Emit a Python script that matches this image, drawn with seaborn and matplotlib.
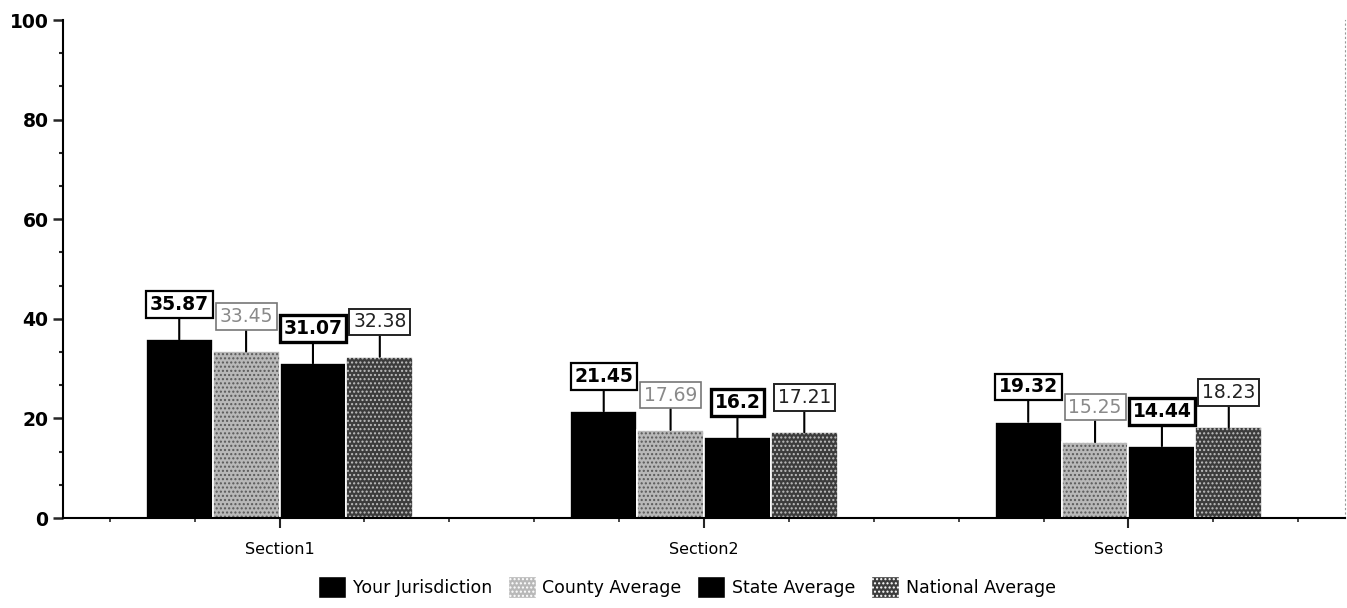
import matplotlib
matplotlib.use("Agg")
import matplotlib.pyplot as plt
from matplotlib.patches import Patch
from matplotlib.ticker import MultipleLocator, FixedLocator
import seaborn as sns
import pandas as pd

sections = ["Section1", "Section2", "Section3"]
series_names = ["Your Jurisdiction", "County Average", "State Average", "National Average"]
your_jurisdiction = [35.87, 21.45, 19.32]
county_average = [33.45, 17.69, 15.25]
state_average = [31.07, 16.2, 14.44]
national_average = [32.38, 17.21, 18.23]

values = [your_jurisdiction, county_average, state_average, national_average]
rows = []
for name, vals in zip(series_names, values):
    for sec, v in zip(sections, vals):
        rows.append({"Section": sec, "Series": name, "Value": v})
df = pd.DataFrame(rows)

sns.set_style("white")
plt.rcParams["font.family"] = ["DejaVu Sans"]
plt.rcParams["hatch.linewidth"] = 1.0

face = {"Your Jurisdiction": "#000000", "County Average": "#b8b8b8",
        "State Average": "#000000", "National Average": "#3c3c3c"}
hatch = {"Your Jurisdiction": "", "County Average": "....",
         "State Average": "", "National Average": "...."}
hatch_col = {"County Average": (0.35, 0.35, 0.35, 1),
             "National Average": (0.75, 0.75, 0.75, 1)}
label_style = {
    "Your Jurisdiction": dict(tc="#000000", ec="#000000", lw=1.6, fw="bold"),
    "County Average": dict(tc="#8a8a8a", ec="#777777", lw=1.2, fw="normal"),
    "State Average": dict(tc="#000000", ec="#000000", lw=2.4, fw="bold"),
    "National Average": dict(tc="#222222", ec="#222222", lw=1.4, fw="normal"),
}

fig = plt.figure(figsize=(13.47, 6.08), dpi=100)
ax = fig.add_axes([0.0468, 0.148, 0.9517, 0.819])

sns.barplot(data=df, x="Section", y="Value", hue="Series", order=sections,
            hue_order=series_names, palette=face, width=0.63, ax=ax,
            legend=False, edgecolor="white", linewidth=1.2, saturation=1)

for name, cont in zip(series_names, ax.containers):
    st = label_style[name]
    for bar in cont:
        bar.set_hatch(hatch[name])
        if name in hatch_col:
            bar._hatch_color = hatch_col[name]
        h = bar.get_height()
        xc = bar.get_x() + bar.get_width() / 2
        ax.annotate(f"{h:g}", xy=(xc, h), xytext=(xc, h + 7.0),
                    ha="center", va="center", fontsize=13.5, color=st["tc"],
                    fontweight=st["fw"],
                    bbox=dict(boxstyle="square,pad=0.2", fc="white",
                              ec=st["ec"], lw=st["lw"]),
                    arrowprops=dict(arrowstyle="-", color="black", lw=1.5,
                                    shrinkA=0, shrinkB=0))

ax.set_ylim(0, 100)
ax.set_xlim(-0.51, 2.51)
ax.yaxis.set_major_locator(MultipleLocator(20))
ax.yaxis.set_minor_locator(MultipleLocator(20 / 3))
minor_x = [c + d for c in range(3) for d in (-0.4, -0.2, 0.2, 0.4)]
ax.xaxis.set_minor_locator(FixedLocator(minor_x))

ax.spines["top"].set_visible(False)
ax.spines["right"].set_linestyle((0, (1, 3)))
ax.spines["right"].set_color("#999999")
ax.spines["right"].set_linewidth(0.8)
for side in ("left", "bottom"):
    ax.spines[side].set_color("black")
    ax.spines[side].set_linewidth(1.5)

ax.tick_params(axis="y", which="major", length=7, width=1.8, direction="out",
               labelsize=13.5, left=True, labelcolor="black")
ax.tick_params(axis="y", which="minor", length=3, width=1.5, direction="out", left=True)
ax.tick_params(axis="x", which="major", length=7, width=1.5, direction="out",
               labelsize=11.5, bottom=True, pad=10, labelcolor="black")
ax.tick_params(axis="x", which="minor", length=3, width=1.2, direction="out", bottom=True)
for lbl in ax.get_yticklabels():
    lbl.set_fontweight("bold")
ax.set_xlabel("")
ax.set_ylabel("")

handles = [Patch(facecolor=face[n], hatch=hatch[n], edgecolor="white", label=n)
           for n in series_names]
leg = fig.legend(handles=handles, loc="lower center", ncol=4, frameon=False,
                 fontsize=12.5, bbox_to_anchor=(0.51, -0.01), handlelength=1.6,
                 handleheight=1.6, handletextpad=0.4, columnspacing=0.9)
for t in leg.get_texts():
    t.set_color("black")

fig.savefig("out.png", dpi=100)
